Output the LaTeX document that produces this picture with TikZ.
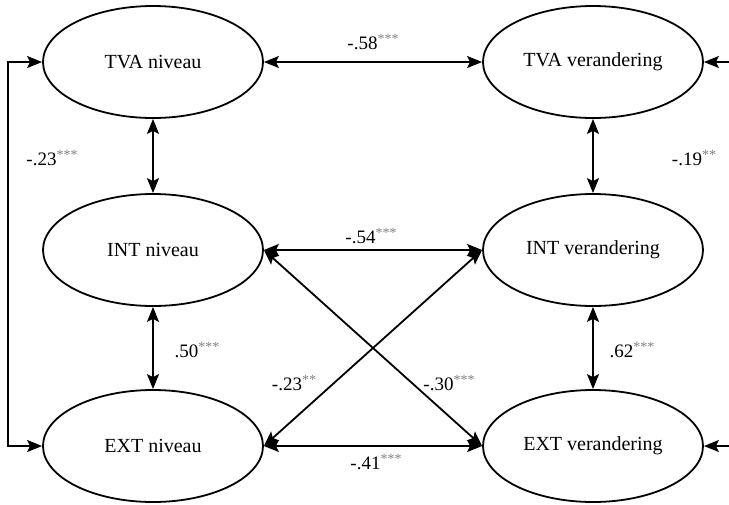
\documentclass[tikz,border=0pt]{standalone}
\usepackage{fontspec}
\setmainfont{Liberation Serif}
\usetikzlibrary{shapes.geometric,arrows.meta}
\definecolor{stargray}{gray}{0.5}
\newcommand{\st}[1]{\raisebox{6.5pt}{\fontsize{14}{14}\selectfont\textcolor{stargray}{#1}}}
\begin{document}
\begin{tikzpicture}[x=1pt,y=-1pt,
  lat/.style={draw,ellipse,line width=1.8pt,minimum width=220pt,minimum height=112pt,inner sep=0pt,font=\fontsize{20}{22}\selectfont},
  conn/.style={line width=1.8pt,{Stealth[length=15pt,width=12pt,inset=3pt]}-{Stealth[length=15pt,width=12pt,inset=3pt]}},
  lbl/.style={font=\fontsize{19}{21}\selectfont,inner sep=0pt}]
\useasboundingbox (0,0) rectangle (729,504);
\clip (0,0) rectangle (729,504);
\node[lat] (tvn) at (153,62) {TVA niveau};
\node[lat] (tvv) at (593,62) {TVA verandering};
\node[lat] (inn) at (153,250) {INT niveau};
\node[lat] (inv) at (593,250) {INT verandering};
\node[lat] (exn) at (153,446) {EXT niveau};
\node[lat] (exv) at (593,446) {EXT verandering};
\coordinate (L) at (8,0);
\coordinate (R) at (745,0);
\draw[conn] (tvn) -- (tvv);
\draw[conn] (inn) -- (inv);
\draw[conn] (exn) -- (exv);
\draw[conn] (tvn) -- (inn);
\draw[conn] (inn) -- (exn);
\draw[conn] (tvv) -- (inv);
\draw[conn] (inv) -- (exv);
\draw[conn] (inn.east) -- (exv.west);
\draw[conn] (exn.east) -- (inv.west);
\draw[conn] (tvn.west) -- (tvn.west -| L) -- (exn.west -| L) -- (exn.west);
\draw[conn] (tvv.east) -- (tvv.east -| R) -- (exv.east -| R) -- (exv.east);
\node[lbl] (l1) at (373,42) {-.58\st{***}};
\node[lbl] (l2) at (371,236) {-.54\st{***}};
\node[lbl] (l3) at (376,462) {-.41\st{***}};
\node[lbl] (l4) at (52,158) {-.23\st{***}};
\node[lbl] (l5) at (694,158) {-.19\st{**}};
\node[lbl] (l6) at (197,350) {.50\st{***}};
\node[lbl] (l7) at (632,350) {.62\st{***}};
\node[lbl] (l8) at (294,383) {-.23\st{**}};
\node[lbl] (l9) at (449,383) {-.30\st{***}};
\end{tikzpicture}
\end{document}
